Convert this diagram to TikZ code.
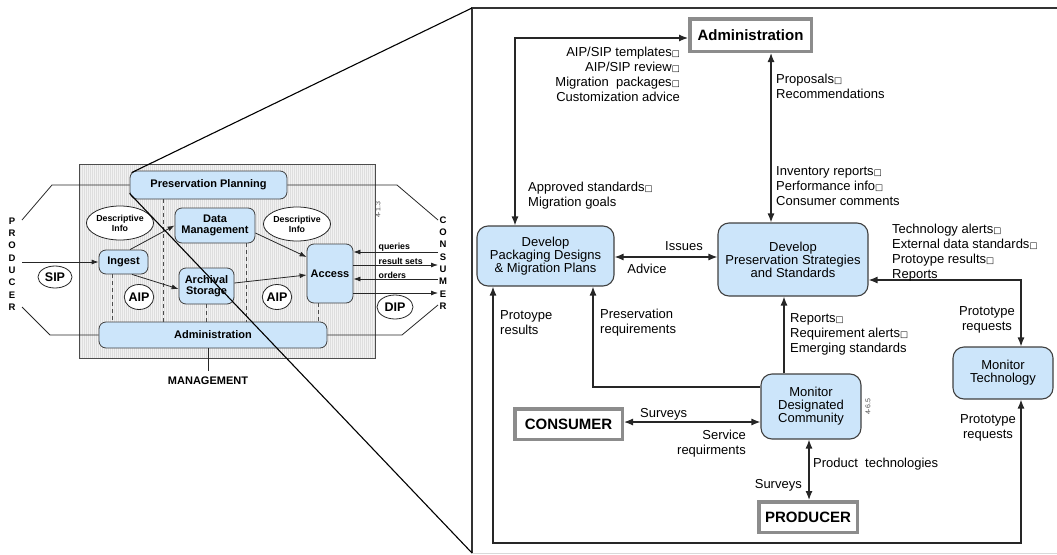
\documentclass[tikz,border=0pt]{standalone}
\usepackage{fontspec}
\setmainfont{Liberation Sans}
\newfontfamily\symfont{DejaVu Sans}
\usetikzlibrary{arrows.meta,shapes.geometric,calc}
\definecolor{boxblue}{RGB}{204,229,250}
\newcommand{\brk}{{\symfont\fontsize{8.5}{8.5}\selectfont □}}
\begin{document}
\begin{tikzpicture}[x=1pt,y=-1pt,
  lnode/.style={draw=black!75, fill=boxblue, rounded corners=7pt, line width=0.8pt,
    inner sep=1pt, align=center, font=\bfseries\fontsize{11}{11.5}\selectfont},
  ell/.style={ellipse, draw=black!85, fill=white, line width=0.8pt, inner sep=0pt,
    align=center, font=\bfseries\fontsize{8.8}{10}\selectfont},
  tag/.style={ellipse, draw=black!85, fill=white, line width=0.8pt, inner sep=0pt,
    font=\bfseries\fontsize{12.5}{12.5}\selectfont},
  rnode/.style={draw=black!75, fill=boxblue, rounded corners=11pt, line width=1.1pt,
    align=center, font=\fontsize{13}{13}\selectfont, inner sep=1pt},
  ext/.style={draw=black!45, line width=3.5pt, fill=white,
    font=\bfseries\fontsize{15}{15}\selectfont, inner sep=0pt},
  wire/.style={line width=1.2pt, draw=black!85},
  arr/.style={wire, -{Latex[length=9pt,width=7pt]}},
  both/.style={wire, {Latex[length=9pt,width=7pt]}-{Latex[length=9pt,width=7pt]}},
  thin/.style={line width=0.8pt, draw=black!85},
  sarr/.style={thin, -{Latex[length=7pt,width=5pt]}},
  dashln/.style={line width=0.8pt, draw=black!70, dash pattern=on 4pt off 3pt},
  lbl/.style={inner sep=0pt, font=\fontsize{13}{15}\selectfont},
  smalllbl/.style={inner sep=0.5pt, font=\bfseries\fontsize{8.8}{9}\selectfont},
  letters/.style={inner sep=0pt, align=center, font=\bfseries\fontsize{9.5}{12.3}\selectfont},
  tiny/.style={inner sep=0pt, font=\fontsize{7}{7}\selectfont, rotate=90, text=black!70}
]
\useasboundingbox (0,0) rectangle (1057,554);

% ---------- functional model panel ----------
\fill[gray!10] (79,164) rectangle (375,358);
\foreach \x in {80,82,...,374}
  \draw[gray!26, line width=0.5pt] (\x,164) -- (\x,358);
\draw[black!70, line width=0.8pt] (79,164) rectangle (375,358);

\node[lnode, minimum width=157pt, minimum height=28pt] (pp) at (208.5,185) {Preservation Planning};
\node[lnode, minimum width=228pt, minimum height=26pt] (adm) at (213,335) {Administration};
\node[lnode, minimum width=80pt, minimum height=35pt] (dm) at (215,225.5) {Data\\[-1pt]Management};
\node[lnode, minimum width=49pt, minimum height=24pt] (ing) at (123.5,262) {Ingest};
\node[lnode, minimum width=55pt, minimum height=36pt] (arch) at (206.5,286) {Archival\\[-1pt]Storage};
\node[lnode, minimum width=46pt, minimum height=59pt] (acc) at (330,273.5) {Access};

\node[ell, minimum width=64pt, minimum height=34pt] (di1) at (120,223) {Descriptive\\Info};
\node[ell, minimum width=64pt, minimum height=34pt] (di2) at (297,224) {Descriptive\\Info};
\node[tag, minimum width=34pt, minimum height=22pt] (sip) at (55,277) {SIP};
\node[tag, minimum width=29pt, minimum height=25pt] (aip1) at (139,297) {AIP};
\node[tag, minimum width=29pt, minimum height=25pt] (aip2) at (277,297) {AIP};
\node[tag, minimum width=36pt, minimum height=24pt] (dip) at (395,307) {DIP};

% dashed links to Administration
\draw[dashln] ([xshift=-45.5pt]pp.south) -- ([xshift=-50pt]adm.north);
\draw[dashln] ([xshift=-11.5pt]ing.south) -- ([xshift=-101pt]adm.north);
\draw[dashln] ([xshift=-0.5pt]arch.south) -- ([xshift=-7pt]adm.north);
\draw[dashln] ([xshift=31pt]dm.south) -- ([xshift=33pt]adm.north);
\draw[dashln] ([xshift=-12pt]acc.south) -- ([xshift=105pt]adm.north);

% internal flows
\draw[sarr] ([xshift=6.5pt]ing.north) -- (dm.west);
\draw[sarr] ([xshift=8.5pt]ing.south) -- ([yshift=-3pt]arch.west);
\draw[sarr] ([yshift=-7.5pt]dm.east) -- ([yshift=16.5pt]acc.west);
\draw[sarr] ([yshift=3pt]arch.east) -- ([yshift=-1.5pt]acc.west);

% producer side
\node[letters] (prodL) at (12,264) {P\\R\\O\\D\\U\\C\\E\\R};
\coordinate (pIn) at (22,262);
\coordinate (pT1) at (22,220);
\coordinate (pT2) at (52,185);
\coordinate (pB1) at (22,307);
\coordinate (pB2) at (50,335);
\draw[sarr] (pIn) -- (ing.west);
\draw[thin] (pT1) -- (pT2) -- (pp.west);
\draw[thin] (pB1) -- (pB2) -- (adm.west);

% consumer side
\node[letters] (consL) at (443,263) {C\\O\\N\\S\\U\\M\\E\\R};
\coordinate (cT1) at (397,185);
\coordinate (cT2) at (438,220);
\coordinate (cB1) at (402,335);
\coordinate (cB2) at (438,305);
\draw[thin] (pp.east) -- (cT1) -- (cT2);
\draw[thin] (adm.east) -- (cB1) -- (cB2);
\coordinate (q1) at (438,252);
\coordinate (q2) at (438,265);
\coordinate (q3) at (438,279);
\coordinate (q4) at (438,293);
\draw[sarr] (q1) -- (acc.east |- q1);
\draw[sarr] (acc.east |- q2) -- (q2);
\draw[sarr] (q3) -- (acc.east |- q3);
\draw[sarr] (acc.east |- q4) -- (q4);
\node[smalllbl, anchor=south west] (lq) at (378,252) {queries};
\node[smalllbl, anchor=south west] (lr) at (378,265) {result sets};
\node[smalllbl, anchor=south west] (lo) at (378,279) {orders};

% management
\node[inner sep=0pt, font=\bfseries\fontsize{11}{11}\selectfont] (mg) at (208,381) {MANAGEMENT};
\draw[thin] ([xshift=-5pt]adm.south) -- ([yshift=6pt]mg.north);
\node[tiny] (ref1) at (378,210) {4-1.3};

% ---------- Preservation Planning detail ----------
\coordinate (fTL) at (472,8);
\coordinate (fBL) at (472,553);
\coordinate (fTR) at (1057,8);
\coordinate (fBR) at (1057,553);
\draw[black!15, line width=1pt] (fBL) -- (fBR);
\draw[black!80, line width=2pt] (fBL) -- (fTL) -- (fTR);

\node[ext, minimum width=121.5pt, minimum height=32.5pt] (adminR) at (750.5,35) {Administration};
\node[rnode, minimum width=137pt, minimum height=60pt] (pack) at (545.5,256)
  {Develop\\Packaging Designs\\\& Migration Plans};
\node[rnode, minimum width=150pt, minimum height=73pt] (strat) at (793,259.5)
  {Develop\\Preservation Strategies\\and Standards};
\node[rnode, minimum width=100pt, minimum height=52pt] (montech) at (1003,373)
  {Monitor\\Technology};
\node[rnode, minimum width=100pt, minimum height=65pt] (mdc) at (811,406.5)
  {Monitor\\Designated\\Community};
\node[ext, minimum width=107.5pt, minimum height=30.5pt] (consR) at (568.5,424) {CONSUMER};
\node[ext, minimum width=98.5pt, minimum height=30.5pt] (prodR) at (808,517) {PRODUCER};
\node[tiny] (ref2) at (868,407) {4-6.5};

% connectors
\draw[both] ([yshift=-3pt]adminR.west) -| ([xshift=-30.5pt]pack.north);
\draw[both] ([xshift=20.5pt]adminR.south) -- ([xshift=-22pt]strat.north);
\draw[both] ([yshift=-1pt]pack.east) -- ([yshift=-1pt]pack.east -| strat.west);
\draw[both] ([yshift=-20.5pt]strat.east) -| ([xshift=18pt]montech.north);
\draw[arr] ([xshift=-27pt]mdc.north) -- ([xshift=-27pt]mdc.north |- strat.south);
\draw[arr] ([yshift=19.5pt]mdc.west) -| ([xshift=47.5pt]pack.south);
\coordinate (pA) at ([xshift=-52.5pt]pack.south);
\coordinate (pB) at ([xshift=18pt]montech.south);
\coordinate (loopY) at (0,543);
\draw[both] (pA) -- (pA |- loopY) -- (pB |- loopY) -- (pB);
\draw[both] ([yshift=2pt]consR.east) -- ([yshift=2pt]consR.east -| mdc.west);
\draw[both] ([xshift=-2pt]mdc.south) -- ([xshift=-2pt]mdc.south |- prodR.north);

% flow labels (anchored on the baseline of their last line)
\node[lbl, anchor=base east, align=right] (l1) at (680,101)
  {AIP/SIP templates\brk\\AIP/SIP review\brk\\Migration\ \ packages\brk\\Customization advice};
\node[lbl, anchor=base west, align=left] (l2) at (528,206)
  {Approved standards\brk\\Migration goals};
\node[lbl, anchor=base west, align=left] (l3) at (776,98)
  {Proposals\brk\\Recommendations};
\node[lbl, anchor=base west, align=left] (l4) at (776,205)
  {Inventory reports\brk\\Performance info\brk\\Consumer comments};
\node[lbl, anchor=base] (l5) at (684,250) {Issues};
\node[lbl, anchor=base] (l6) at (647,273) {Advice};
\node[lbl, anchor=base west, align=left] (l7) at (892,278)
  {Technology alerts\brk\\External data standards\brk\\Protoype results\brk\\Reports};
\node[lbl, anchor=base, align=center] (l8) at (987,330) {Prototype\\requests};
\node[lbl, anchor=base west, align=left] (l9) at (790,352)
  {Reports\brk\\Requirement alerts\brk\\Emerging standards};
\node[lbl, anchor=base west, align=left] (l10) at (600,333) {Preservation\\requirements};
\node[lbl, anchor=base west, align=left] (l11) at (500,334) {Protoype\\results};
\node[lbl, anchor=base, align=center] (l12) at (988,438) {Prototype\\requests};
\node[lbl, anchor=base west] (l13) at (640,417) {Surveys};
\node[lbl, anchor=base east, align=right] (l14) at (746,454) {Service\\requirments};
\node[lbl, anchor=base west] (l15) at (813,467) {Product\ \ technologies};
\node[lbl, anchor=base east] (l16) at (802,488) {Surveys};

% zoom lines from the Preservation Planning function
\coordinate (zA) at ([xshift=2pt,yshift=-2pt]pp.north west);
\coordinate (zB) at ([yshift=6pt]pp.south west);
\draw[black, line width=1.1pt] (zA) -- (fTL);
\draw[black, line width=1.1pt] (zB) -- (fBL);
\end{tikzpicture}
\end{document}
